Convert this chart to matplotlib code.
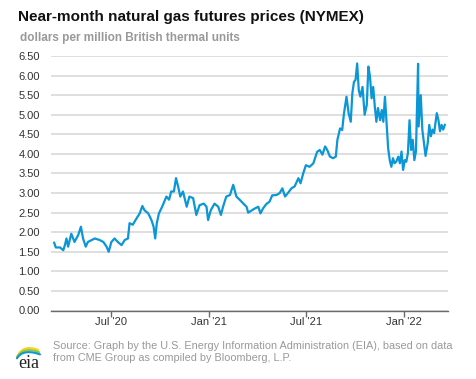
import matplotlib
matplotlib.use("Agg")
import matplotlib.pyplot as plt
import numpy as np
import pandas as pd

plt.rcParams['font.family'] = ['Liberation Sans', 'DejaVu Sans']

# near-month NYMEX natural gas futures
dates = [
    "2020-03-17", "2020-03-20", "2020-03-28", "2020-04-03", "2020-04-06", "2020-04-09",
    "2020-04-12", "2020-04-18", "2020-04-24", "2020-05-01", "2020-05-06", "2020-05-10",
    "2020-05-15", "2020-05-19", "2020-05-26", "2020-06-01", "2020-06-10", "2020-06-17",
    "2020-06-23", "2020-06-27", "2020-07-02", "2020-07-08", "2020-07-14", "2020-07-21",
    "2020-07-27", "2020-08-02", "2020-08-05", "2020-08-11", "2020-08-18", "2020-08-24",
    "2020-08-29", "2020-09-02", "2020-09-09", "2020-09-15", "2020-09-19", "2020-09-22",
    "2020-09-25", "2020-09-29", "2020-10-05", "2020-10-13", "2020-10-18", "2020-10-22",
    "2020-10-27", "2020-10-31", "2020-11-04", "2020-11-08", "2020-11-13", "2020-11-16",
    "2020-11-20", "2020-11-25", "2020-12-02", "2020-12-08", "2020-12-14", "2020-12-22",
    "2020-12-27", "2020-12-30", "2021-01-04", "2021-01-11", "2021-01-18", "2021-01-23",
    "2021-01-27", "2021-02-02", "2021-02-09", "2021-02-15", "2021-02-21", "2021-02-27",
    "2021-03-06", "2021-03-12", "2021-03-15", "2021-03-22", "2021-03-28", "2021-04-03",
    "2021-04-07", "2021-04-12", "2021-04-18", "2021-04-24", "2021-04-29", "2021-05-07",
    "2021-05-13", "2021-05-18", "2021-05-23", "2021-05-29", "2021-06-04", "2021-06-10",
    "2021-06-17", "2021-06-21", "2021-06-26", "2021-07-01", "2021-07-08", "2021-07-15",
    "2021-07-22", "2021-07-27", "2021-08-01", "2021-08-06", "2021-08-10", "2021-08-15",
    "2021-08-21", "2021-08-26", "2021-08-29", "2021-09-03", "2021-09-07", "2021-09-10",
    "2021-09-15", "2021-09-19", "2021-09-23", "2021-09-26", "2021-09-29", "2021-10-02",
    "2021-10-05", "2021-10-08", "2021-10-11", "2021-10-15", "2021-10-19", "2021-10-23",
    "2021-10-26", "2021-10-29", "2021-11-01", "2021-11-04", "2021-11-07", "2021-11-10",
    "2021-11-13", "2021-11-17", "2021-11-20", "2021-11-23", "2021-11-26", "2021-11-29",
    "2021-12-02", "2021-12-05", "2021-12-08", "2021-12-11", "2021-12-14", "2021-12-17",
    "2021-12-21", "2021-12-24", "2021-12-27", "2021-12-30", "2022-01-02", "2022-01-05",
    "2022-01-08", "2022-01-11", "2022-01-14", "2022-01-17", "2022-01-20", "2022-01-23",
    "2022-01-27", "2022-01-28", "2022-02-01", "2022-02-04", "2022-02-07", "2022-02-10",
    "2022-02-14", "2022-02-17", "2022-02-20", "2022-02-23", "2022-02-26", "2022-03-03",
    "2022-03-06", "2022-03-09", "2022-03-12", "2022-03-15", "2022-03-18",
]
prices = [
    1.73, 1.61, 1.61, 1.54, 1.67, 1.84,
    1.63, 1.96, 1.75, 1.93, 2.14, 1.84,
    1.63, 1.75, 1.80, 1.84, 1.80, 1.75,
    1.63, 1.50, 1.75, 1.84, 1.75, 1.67,
    1.80, 1.84, 2.23, 2.19, 2.35, 2.48,
    2.67, 2.56, 2.48, 2.31, 2.14, 1.84,
    2.23, 2.48, 2.65, 2.91, 2.83, 3.04,
    3.04, 3.38, 3.16, 2.91, 3.04, 2.87,
    2.65, 2.91, 2.87, 2.44, 2.69, 2.73,
    2.65, 2.31, 2.56, 2.73, 2.65, 2.44,
    2.65, 2.91, 2.95, 3.21, 2.91, 2.83,
    2.73, 2.65, 2.50, 2.56, 2.61, 2.65,
    2.48, 2.61, 2.72, 2.78, 2.94, 2.95,
    3.00, 3.12, 2.91, 3.01, 3.12, 3.17,
    3.38, 3.25, 3.50, 3.71, 3.67, 3.76,
    4.05, 4.10, 3.98, 4.19, 4.10, 3.93,
    3.89, 3.93, 4.36, 4.65, 4.61, 5.00,
    5.46, 5.04, 4.82, 5.55, 5.84, 5.89,
    6.31, 5.63, 5.46, 5.71, 5.00, 5.25,
    6.23, 5.98, 5.42, 5.71, 5.21, 4.82,
    5.17, 4.86, 5.12, 4.82, 5.46, 4.78,
    4.14, 3.84, 3.67, 3.89, 3.76, 3.80,
    3.93, 3.76, 4.06, 3.59, 3.84, 3.80,
    4.02, 4.86, 4.10, 4.36, 3.84, 4.06,
    6.30, 4.70, 5.50, 4.61, 4.27, 3.95,
    4.27, 4.74, 4.45, 4.62, 4.53, 5.04,
    4.87, 4.58, 4.74, 4.62, 4.74,
]
x_ticks = ["2020-07-01", "2021-01-01", "2021-07-01", "2022-01-01"]
x_labels = ["Jul '20", "Jan '21", "Jul '21", "Jan '22"]

W, H = 477, 379
fig = plt.figure(figsize=(W / 100, H / 100), dpi=100)
ax = fig.add_axes([51 / W, 1 - 310.5 / H, (448 - 51) / W, (310.5 - 56) / H])

ax.plot(pd.to_datetime(dates), prices, color='#0b96d6', lw=1.6, zorder=3)

ax.set_ylim(0, 6.5)
ax.set_yticks([i * 0.5 for i in range(14)])
ax.yaxis.set_major_formatter(plt.FuncFormatter(lambda v, p: '{:.2f}'.format(v)))
ax.set_xlim(pd.Timestamp("2020-03-11"), pd.Timestamp("2022-03-24"))
ax.set_xticks(pd.to_datetime(x_ticks))
ax.set_xticklabels(x_labels)

ax.grid(axis='y', color='#d9d9d9', lw=1.2, zorder=0)
for s in ['top', 'right', 'left']:
    ax.spines[s].set_visible(False)
ax.spines['bottom'].set_color('#6b6b6b')
ax.spines['bottom'].set_linewidth(1.0)
ax.tick_params(axis='y', length=0, pad=8, labelsize=8, labelcolor='#333333')
ax.tick_params(axis='x', length=4, width=1, color='#6b6b6b', pad=1,
               labelsize=8, labelcolor='#333333')

fig.text(18 / W, 1 - 17 / H, "Near-month natural gas futures prices (NYMEX)",
         fontsize=11, fontweight='bold', color='#111111', va='center')
fig.text(20 / W, 1 - 38 / H, "dollars per million British thermal units",
         fontsize=8.5, fontweight='bold', color='#999999', va='center')
fig.text(53 / W, 1 - 352 / H,
         "Source: Graph by the U.S. Energy Information Administration (EIA), based on data\n"
         "from CME Group as compiled by Bloomberg, L.P.",
         fontsize=7.8, color='#999999', va='center', linespacing=1.35)

# rough eia logo, drawn in pixel coordinates
lax = fig.add_axes([12 / W, 1 - 374 / H, 34 / W, 32 / H])
lax.set_xlim(12, 46)
lax.set_ylim(374, 342)
lax.axis('off')
t = np.linspace(0, 1, 30)
for dy, x1, c in [(0, 38, '#f5d11b'), (2.2, 39, '#8dc63f'), (4.4, 40, '#0b96d6')]:
    p0, p1, p2 = (17, 357 + dy * 0.3), (23, 344 + dy), (x1, 350 + dy)
    bx = (1 - t) ** 2 * p0[0] + 2 * (1 - t) * t * p1[0] + t ** 2 * p2[0]
    by = (1 - t) ** 2 * p0[1] + 2 * (1 - t) * t * p1[1] + t ** 2 * p2[1]
    lax.plot(bx, by, color=c, lw=1.5, solid_capstyle='round')
lax.text(28.5, 368, "eia", family=['Liberation Serif', 'DejaVu Serif'],
         fontsize=13, color='#222222', ha='center', va='baseline')

fig.savefig("out.png", dpi=100)
